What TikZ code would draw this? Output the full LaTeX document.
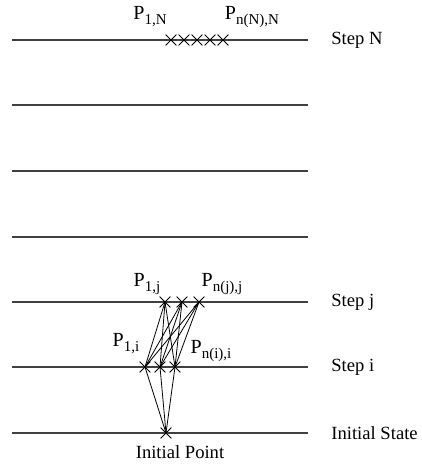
\documentclass[tikz,border=0pt]{standalone}
\usepackage{fontspec}
\setmainfont{Liberation Serif}
\usetikzlibrary{shapes.misc}

\newcommand{\psub}[1]{P\raisebox{-0.55ex}{\fontsize{7.5}{8}\selectfont #1}}

\begin{document}
\begin{tikzpicture}[x=0.5pt, y=-0.5pt, font=\fontsize{10}{12}\selectfont,
    level/.style={line width=0.6pt, black!75},
    steplabel/.style={anchor=west, inner sep=0pt, font=\fontsize{9.3}{11}\selectfont},
    pt/.style={cross out, draw, line width=0.4pt, minimum size=5pt, inner sep=0pt},
    link/.style={line width=0.4pt}]
  \useasboundingbox (0,0) rectangle (422,465);

  % Levels
  \foreach \y/\n in {40/N, 105/a, 171/b, 237/c, 302/j, 367/i, 433/o} {
    \coordinate (l\n) at (12,\y);
    \coordinate (r\n) at (308,\y);
    \draw[level] (l\n) -- (r\n);
  }
  \node[steplabel] (sN) at (331,40) {Step N};
  \node[steplabel] (sj) at (331,302) {Step j};
  \node[steplabel] (si) at (331,367) {Step i};
  \node[steplabel] (so) at (331,433) {Initial State};

  % Points on step N
  \foreach \k/\x in {1/171, 2/184, 3/197, 4/210, 5/223}
    \node[pt] (pN\k) at (\x,40) {};
  \node (tN1) at (150,17) {\psub{1,N}};
  \node (tNn) at (252,17) {\psub{n(N),N}};

  % Points on steps j, i and the initial point
  \foreach \k/\x in {1/165, 2/182, 3/199}
    \node[pt] (pj\k) at (\x,302) {};
  \foreach \k/\x in {1/145, 2/160, 3/175}
    \node[pt] (pi\k) at (\x,367) {};
  \node[pt] (p0) at (166,433) {};

  \node (tj1) at (147,284) {\psub{1,j}};
  \node (tjn) at (222,284) {\psub{n(j),j}};
  \node (ti1) at (126,344) {\psub{1,i}};
  \node (tin) at (211,351) {\psub{n(i),i}};
  \node[font=\fontsize{9.3}{11}\selectfont] (t0) at (180,452) {Initial Point};

  % Transitions
  \foreach \a in {1,2,3} {
    \draw[link] (p0.center) -- (pi\a.center);
    \foreach \b in {1,2,3}
      \draw[link] (pi\a.center) -- (pj\b.center);
  }
\end{tikzpicture}
\end{document}
